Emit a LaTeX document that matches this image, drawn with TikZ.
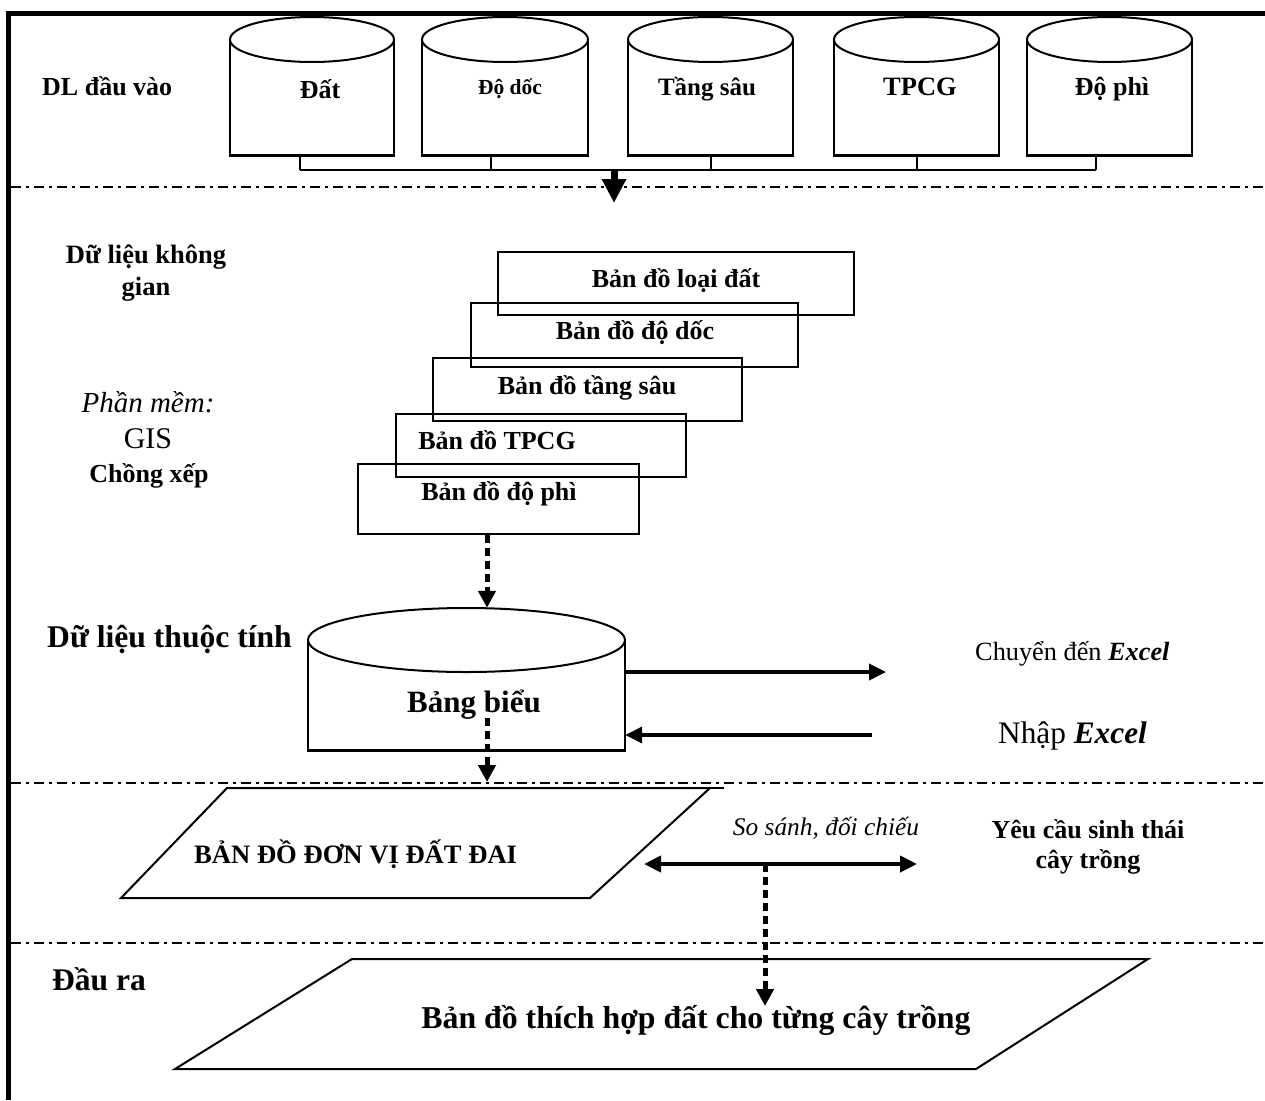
\documentclass[tikz,border=0pt]{standalone}
\usepackage{fontspec}
\setmainfont{Liberation Serif}
\usetikzlibrary{arrows.meta,fit}

% drum: name, left x, right x, top y, bottom y, half-height of the lid
\newcommand{\drum}[6]{%
  \path (#2,#4) coordinate (#1-nw) (#3,#5) coordinate (#1-se);
  \node[fit=(#1-nw)(#1-se), inner sep=0pt] (#1) {};
  \draw[outline] (#2,#4+#6) -- (#2,#5);
  \draw[outline] (#3,#4+#6) -- (#3,#5);
  \draw[line width=3pt] (#2-1,#5) -- (#3+1,#5);
  \draw[outline] ({(#2+#3)/2},#4+#6) ellipse ({(#3-#2)/2} and #6);
}

\begin{document}
\begin{tikzpicture}[x=1pt,y=-1pt,
  outline/.style={line width=2pt},
  separator/.style={line width=2pt, dash pattern=on 10pt off 5pt on 3pt off 5pt},
  mapbox/.style={draw, line width=2pt, inner sep=0pt},
  bus/.style={line width=2pt},
  solidarrow/.style={line width=3.5pt, -{Triangle[length=17pt,width=16pt]}},
  twoway/.style={line width=4pt, {Triangle[length=17pt,width=16pt]}-{Triangle[length=17pt,width=16pt]}},
  bigarrow/.style={line width=7pt, -{Triangle[length=24pt,width=23pt]}},
  dotarrow/.style={line width=5pt, dash pattern=on 8pt off 5pt, -{Triangle[length=17pt,width=17pt]}},
  lbl/.style={inner sep=0pt, anchor=base},
  lblw/.style={inner sep=0pt, anchor=base west},
  bf/.style={font=\fontsize{#1}{#1}\selectfont\bfseries},
  rm/.style={font=\fontsize{#1}{#1}\selectfont},
  it/.style={font=\fontsize{#1}{#1}\selectfont\itshape}]

\useasboundingbox (0,0) rectangle (1265,1100);

% outer frame (top and left edges)
\draw[line width=5pt] (8.5,1100) -- (8.5,13.5) -- (1265,13.5);

% band separators
\draw[separator] (11,187) coordinate (sepA) -- (1265,187) coordinate (sepAe);
\draw[separator] (11,783) coordinate (sepB) -- (1265,783) coordinate (sepBe);
\draw[separator] (11,943) coordinate (sepC) -- (1265,943) coordinate (sepCe);

% ---------- input data ----------
\node[lblw, bf=26] (inlabel) at (42,95) {DL đầu vào};

\drum{dat}{230}{394}{17}{155}{22.5}
\drum{doc}{422}{588}{17}{155}{22.5}
\drum{sau}{628}{793}{17}{155}{22.5}
\drum{tpcg}{834}{999}{17}{155}{22.5}
\drum{phi}{1027}{1192}{17}{155}{22.5}

\node[lbl, bf=26]   (datT)  at (320,98) {Đất};
\node[lbl, bf=21.5] (docT)  at (510,94) {Độ dốc};
\node[lbl, bf=25]   (sauT)  at (707,95) {Tầng sâu};
\node[lbl, bf=26.5] (tpcgT) at (920,95) {TPCG};
\node[lbl, bf=26]   (phiT)  at (1112,95) {Độ phì};

% collecting bus under the drums
\coordinate (busL) at (300,170);
\coordinate (busR) at (1096,170);
\draw[bus] ([xshift=-12pt]dat.south) -- ([xshift=-12pt]dat.south |- busL);
\draw[bus] ([xshift=-14pt]doc.south) -- ([xshift=-14pt]doc.south |- busL);
\draw[bus] ([xshift=0.5pt]sau.south) -- ([xshift=0.5pt]sau.south |- busL);
\draw[bus] ([xshift=0.5pt]tpcg.south) -- ([xshift=0.5pt]tpcg.south |- busL);
\draw[bus] ([xshift=-13.5pt]phi.south) -- ([xshift=-13.5pt]phi.south |- busL);
\draw[bus] (busL) -- (busR);
\coordinate (busDrop) at (614,170);
\coordinate (spatialIn) at (614,203);
\draw[bigarrow] (busDrop) -- (spatialIn);

% ---------- spatial data ----------
\node[lbl, bf=26.5] (sp1) at (146,263) {Dữ liệu không};
\node[lbl, bf=26.5] (sp2) at (146,295) {gian};
\node[lbl, it=29]   (sw1) at (148,412) {Phần mềm:};
\node[lbl, rm=30]   (sw2) at (148,448) {GIS};
\node[lbl, bf=26]   (sw3) at (149,482) {Chồng xếp};

\node[mapbox, minimum width=356pt, minimum height=63pt] (m1) at (676,283.5) {};
\node[mapbox, minimum width=327pt, minimum height=64pt] (m2) at (634.5,335) {};
\node[mapbox, minimum width=309pt, minimum height=63pt] (m3) at (587.5,389.5) {};
\node[mapbox, minimum width=290pt, minimum height=63pt] (m4) at (541,445.5) {};
\node[mapbox, minimum width=281pt, minimum height=70pt] (m5) at (498.5,499) {};

\node[lbl, bf=26] (m1T) at (676,287) {Bản đồ loại đất};
\node[lbl, bf=26] (m2T) at (635,339) {Bản đồ độ dốc};
\node[lbl, bf=26] (m3T) at (587,394) {Bản đồ tầng sâu};
\node[lbl, bf=26] (m4T) at (497,449) {Bản đồ TPCG};
\node[lbl, bf=26] (m5T) at (499,500) {Bản đồ độ phì};

% ---------- attribute data ----------
\node[lblw, bf=31.6] (attr) at (47,647) {Dữ liệu thuộc tính};
\drum{bb}{308}{625}{608}{750}{32}
\node[lbl, bf=31] (bbT) at (474,712) {Bảng biểu};

\draw[dotarrow] ([xshift=-11.5pt]m5.south) -- ([xshift=-11.5pt]m5.south |- bb.north);

\coordinate (toExcel) at (886,672);
\coordinate (fromExcel) at (872,735);
\draw[solidarrow] ([yshift=7pt]bb.east) -- (toExcel);
\draw[solidarrow] (fromExcel) -- ([yshift=-56pt]bb.east);
\node[lblw, rm=26.3] (exOut) at (975,660) {Chuyển đến \textbf{\textit{Excel}}};
\node[lblw, rm=31.3] (exIn) at (998,743) {Nhập \textbf{\textit{Excel}}};

\coordinate (bbOut) at (487,718);
\coordinate (unitIn) at (487,782);
\draw[dotarrow] (bbOut) -- (unitIn);

% ---------- land units ----------
\coordinate (u1) at (227,788);
\coordinate (u2) at (710,788);
\coordinate (u3) at (590,898);
\coordinate (u4) at (121,898);
\draw[outline] (u1) -- (u2) -- (u3) -- (u4) -- cycle;
\draw[outline] (u2) -- ++(14,0);
\node[lblw, bf=26.6] (unitT) at (194,863) {BẢN ĐỒ ĐƠN VỊ ĐẤT ĐAI};

\coordinate (cmpL) at (644,864);
\coordinate (cmpR) at (917,864);
\draw[twoway] (cmpL) -- (cmpR);
\node[lbl, it=25.4] (cmpT) at (826,835) {So sánh, đối chiếu};
\node[lbl, bf=26] (req1) at (1088,838) {Yêu cầu sinh thái};
\node[lbl, bf=26] (req2) at (1088,868) {cây trồng};

% ---------- output ----------
\node[lblw, bf=31.5] (outlabel) at (52,990) {Đầu ra};
\coordinate (o1) at (352,959);
\coordinate (o2) at (1148,959);
\coordinate (o3) at (976,1069);
\coordinate (o4) at (175,1069);
\draw[outline] (o1) -- (o2) -- (o3) -- (o4) -- cycle;
\coordinate (cmpMid) at (765,864);
\coordinate (resultIn) at (765,1006);
\draw[dotarrow] (cmpMid) -- (resultIn);
\node[lbl, bf=31.8] (resT) at (696,1028) {Bản đồ thích hợp đất cho từng cây trồng};

\end{tikzpicture}
\end{document}
